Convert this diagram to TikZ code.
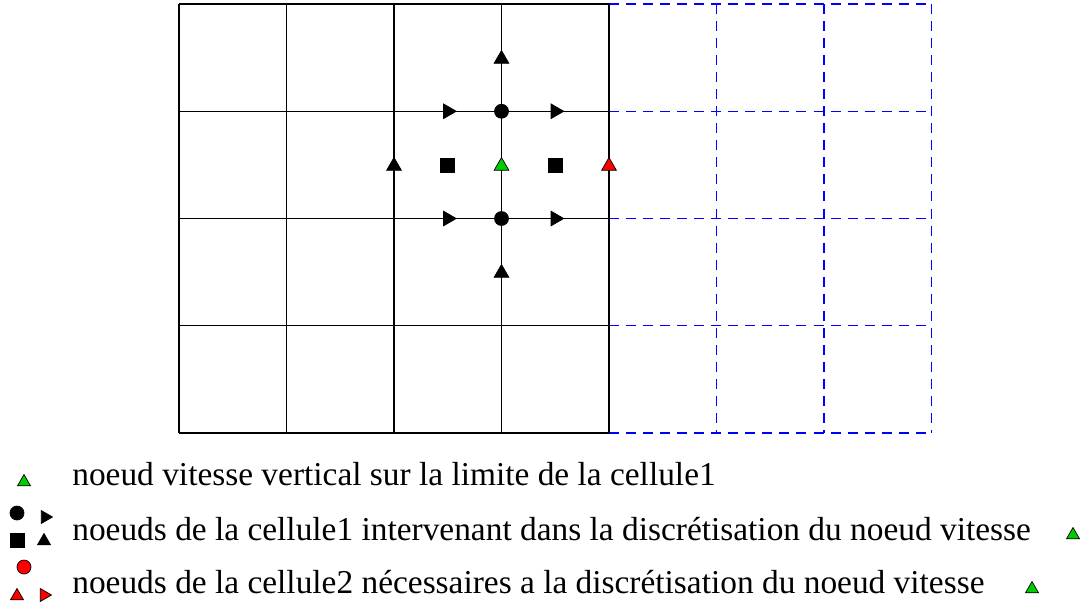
\documentclass[tikz,border=0pt]{standalone}
\usepackage{fontspec}
\setmainfont{Liberation Serif}
\usetikzlibrary{shapes.geometric}
\definecolor{markgreen}{RGB}{0,205,0}
\definecolor{markred}{RGB}{255,0,0}

\begin{document}
\begin{tikzpicture}[
    x=0.02cm, y=-0.02cm,
    cellline/.style={draw=black, line width=0.6pt},
    ghostline/.style={draw=blue, line width=0.6pt, dash pattern=on 5.7pt off 4pt},
    upmark/.style={regular polygon, regular polygon sides=3, draw=black, line width=0.4pt, inner sep=0pt, minimum size=0.34cm},
    rightmark/.style={upmark, shape border rotate=-90},
    dotmark/.style={circle, draw=black, line width=0.4pt, fill=black, inner sep=0pt, minimum size=0.28cm},
    boxmark/.style={rectangle, draw=black, fill=black, inner sep=0pt, minimum size=0.28cm},
    legendtext/.style={anchor=base west, inner sep=0pt, font=\fontsize{19}{23}\selectfont}
]
\useasboundingbox (0,0) rectangle (1086,610);

% ===== cell 1 (solid) and cell 2 (dashed) =====
\foreach \x in {716.5,824,931.5} {
    \draw[ghostline] (\x,4) -- (\x,433);
}
\foreach \y in {4,111.25,218.5,325.75,433} {
    \draw[ghostline] (609,\y) -- (931.5,\y);
    \draw[cellline] (179,\y) -- (609,\y);
}
\foreach \x in {179,286.5,394,501.5,609} {
    \draw[cellline] (\x,4) -- (\x,433);
}

% ===== nodes around the velocity node =====
\node[upmark, fill=black] (vtop) at (501.5,59) {};
\node[upmark, fill=black] (vbot) at (501.5,273) {};
\node[upmark, fill=black] (vleft) at (394,166) {};
\node[upmark, fill=markgreen] (vnode) at (501.5,166) {};
\node[upmark, fill=markred] (vright) at (609,166) {};

\foreach \x/\n in {447.75/w, 555.25/e} {
    \node[rightmark, fill=black] (u\n top) at (\x,111.25) {};
    \node[rightmark, fill=black] (u\n bot) at (\x,218.5) {};
    \node[boxmark] (p\n) at (\x,164.9) {};
}
\node[dotmark] (ctop) at (501.5,111.25) {};
\node[dotmark] (cbot) at (501.5,218.5) {};

% ===== legend =====
\node[upmark, fill=markgreen, minimum size=0.3cm] (leg1) at (24,482) {};
\node[legendtext] (txt1) at (72,485) {noeud vitesse vertical sur la limite de la cellule1};

\node[dotmark] (leg2a) at (17,513) {};
\node[rightmark, fill=black, minimum size=0.3cm] (leg2b) at (45,517) {};
\node[boxmark] (leg2c) at (17,540) {};
\node[upmark, fill=black, minimum size=0.3cm] (leg2d) at (44,541) {};
\node[legendtext] (txt2) at (72,540) {noeuds de la cellule1 intervenant dans la discrétisation du noeud vitesse};
\node[upmark, fill=markgreen, minimum size=0.3cm] (leg2e) at (1073,535) {};

\node[dotmark, fill=markred] (leg3a) at (24,567) {};
\node[upmark, fill=markred, minimum size=0.3cm] (leg3b) at (17,596) {};
\node[rightmark, fill=markred, minimum size=0.3cm] (leg3c) at (44,595) {};
\node[legendtext] (txt3) at (72,593) {noeuds de la cellule2 nécessaires a la discrétisation du noeud vitesse};
\node[upmark, fill=markgreen, minimum size=0.3cm] (leg3d) at (1032,589) {};

\end{tikzpicture}
\end{document}
